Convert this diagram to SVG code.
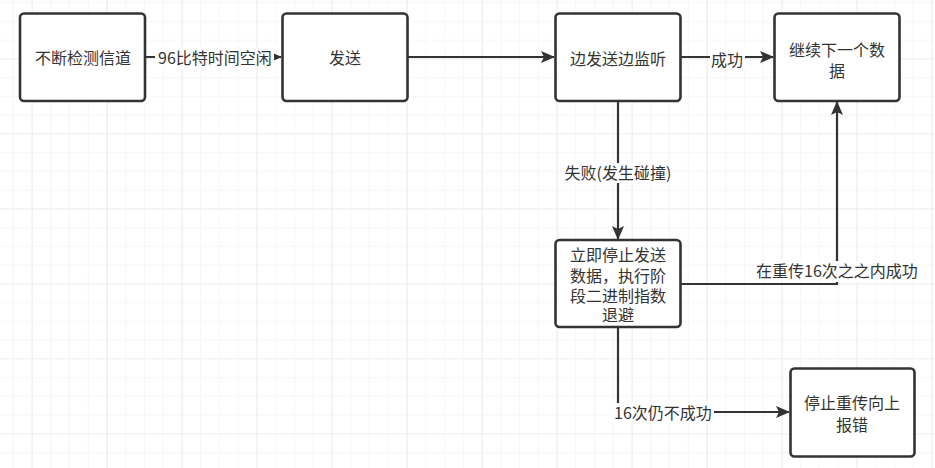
<svg xmlns="http://www.w3.org/2000/svg" width="935" height="468" viewBox="0 0 935 468">
<style>
.box{fill:#fff;stroke:#333;stroke-width:2.6}
.t{font-family:"Noto Sans CJK SC","Noto Sans",sans-serif;font-size:16px;fill:#333;text-anchor:middle}
.e{fill:none;stroke:#333;stroke-width:2.2}
.lb{fill:#fff}
</style>
<defs>
<pattern id="gmin" x="12.7" y="2.1" width="18.75" height="18.75" patternUnits="userSpaceOnUse">
<path d="M0 0H18.75M0 0V18.75" fill="none" stroke="#efefef" stroke-width="1.2"/>
</pattern>
<pattern id="gmaj" x="31.7" y="58.3" width="75" height="75" patternUnits="userSpaceOnUse">
<path d="M0 0H75M0 0V75" fill="none" stroke="#e3e3e3" stroke-width="1.2"/>
</pattern>
<marker id="arr" markerWidth="14" markerHeight="12" refX="13" refY="6" orient="auto" markerUnits="userSpaceOnUse">
<path d="M0 0L14 6L0 12L3 6Z" fill="#333"/>
</marker>
</defs>
<rect width="935" height="468" fill="#fff"/>
<rect width="935" height="468" fill="url(#gmin)"/>
<rect width="935" height="468" fill="url(#gmaj)"/>

<g id="connectors">
<path class="e" d="M145 57H281" marker-end="url(#arr)"/>
<rect class="lb" x="155" y="48" width="119" height="20"/>
<text class="t" x="215" y="64">96比特时间空闲</text>

<path class="e" d="M407 57H554" marker-end="url(#arr)"/>

<path class="e" d="M681 57H773" marker-end="url(#arr)"/>
<rect class="lb" x="710" y="49" width="35" height="20"/>
<text class="t" x="727" y="66">成功</text>

<path class="e" d="M618 101V239" marker-end="url(#arr)"/>
<rect class="lb" x="563" y="163" width="110" height="20"/>
<text class="t" x="618" y="179">失败(发生碰撞)</text>

<path class="e" d="M681 284H837V102" marker-end="url(#arr)"/>
<rect class="lb" x="752" y="261" width="170" height="21"/>
<text class="t" x="837" y="277">在重传16次之之内成功</text>

<path class="e" d="M618 327V412H789" marker-end="url(#arr)"/>
<rect class="lb" x="612" y="403" width="102" height="20"/>
<text class="t" x="663" y="419">16次仍不成功</text>
</g>

<g id="n1">
<rect class="box" x="20" y="13.5" width="125" height="87.5" rx="4"/>
<text class="t" x="83" y="64">不断检测信道</text>
</g>
<g id="n2">
<rect class="box" x="282.5" y="13.5" width="125" height="87.5" rx="4"/>
<text class="t" x="345" y="64">发送</text>
</g>
<g id="n3">
<rect class="box" x="555.5" y="13.5" width="125" height="87.5" rx="4"/>
<text class="t" x="618" y="65">边发送边监听</text>
</g>
<g id="n4">
<rect class="box" x="774.5" y="13.5" width="125" height="87.5" rx="4"/>
<text class="t" x="837" y="56">继续下一个数<tspan x="837" dy="21">据</tspan></text>
</g>
<g id="n5">
<rect class="box" x="555.5" y="240" width="125" height="87" rx="4"/>
<text class="t" x="618" y="261">立即停止发送<tspan x="618" dy="20.5">数据，执行阶</tspan><tspan x="618" dy="20">段二进制指数</tspan><tspan x="618" dy="19.5">退避</tspan></text>
</g>
<g id="n6">
<rect class="box" x="790.5" y="368.5" width="124" height="88" rx="4"/>
<text class="t" x="852" y="409">停止重传向上<tspan x="852" dy="22">报错</tspan></text>
</g>
</svg>
